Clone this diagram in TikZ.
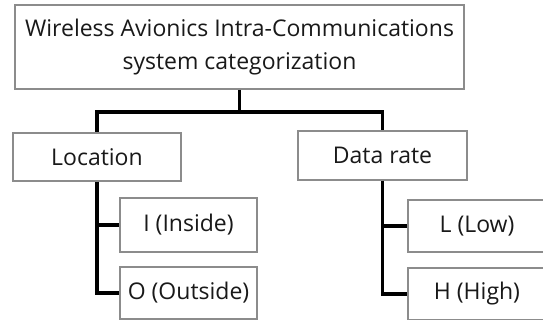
\documentclass[tikz,border=0pt]{standalone}
\usepackage{fontspec}
\setmainfont{Open Sans}
\begin{document}
\begin{tikzpicture}[x=1pt,y=-1pt,
  box/.style={draw=black!45,line width=2pt,fill=white,inner sep=0pt,font=\fontsize{23}{33}\selectfont,text=black!90},
  conn/.style={draw=black,line width=3.2pt}]
\useasboundingbox (0,0) rectangle (543,320);
\node[box,minimum width=449pt,minimum height=84pt,align=center] (top) at (239.5,47) {Wireless Avionics Intra-Communications\\system categorization};
\node[box,minimum width=168pt,minimum height=48pt] (loc) at (97,157) {Location};
\node[box,minimum width=169pt,minimum height=49pt] (rate) at (382.5,155.5) {Data rate};
\node[box,minimum width=137pt,minimum height=54pt] (in) at (188.5,225) {I (Inside)};
\node[box,minimum width=137pt,minimum height=52pt] (out) at (188.5,293) {O (Outside)};
\node[box,minimum width=138pt,minimum height=52pt] (low) at (477,226) {L (Low)};
\node[box,minimum width=138pt,minimum height=52pt] (high) at (477,294) {H (High)};
\coordinate (mid) at ([yshift=-22pt]top.south);
\draw[conn] (top.south) -- (mid);
\draw[conn] (loc.north) |- (mid) -| (rate.north);
\draw[conn] (loc.south) |- (in.west);
\draw[conn] (loc.south) |- (out.west);
\draw[conn] (rate.south) |- (low.west);
\draw[conn] (rate.south) |- (high.west);
\end{tikzpicture}
\end{document}
